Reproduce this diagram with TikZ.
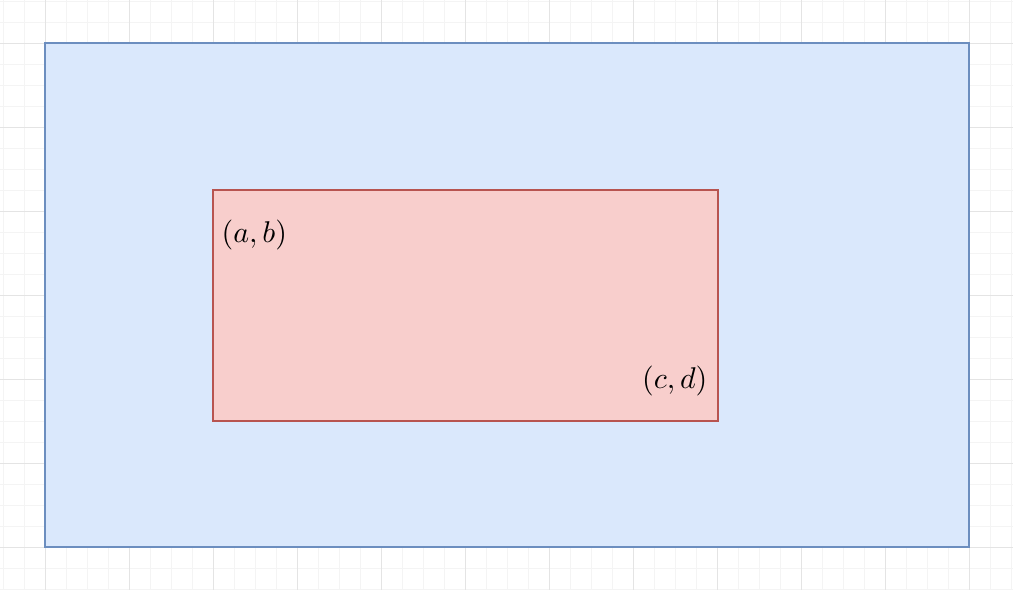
\documentclass[tikz,border=0pt]{standalone}
\usepackage{xcolor}
\usetikzlibrary{positioning}

\definecolor{outerfill}{HTML}{DAE8FC}
\definecolor{outerline}{HTML}{6C8EBF}
\definecolor{innerfill}{HTML}{F8CECC}
\definecolor{innerline}{HTML}{B85450}
\definecolor{minorgrid}{HTML}{F4F4F4}
\definecolor{majorgrid}{HTML}{E4E4E4}

\tikzset{
  outerbox/.style={fill=outerfill, draw=outerline, line width=1pt},
  innerbox/.style={fill=innerfill, draw=innerline, line width=1pt},
  corner/.style={inner sep=0pt, scale=1.5}
}

\begin{document}
\begin{tikzpicture}[x=0.5pt, y=-0.5pt]
  \useasboundingbox (0,0) rectangle (1013,590);
  \fill[white] (0,0) rectangle (1013,590);
  % background grid
  \foreach \x in {3,24,...,1013}
    \draw[minorgrid, line width=0.5pt] (\x,0) -- (\x,590);
  \foreach \y in {1,22,...,590}
    \draw[minorgrid, line width=0.5pt] (0,\y) -- (1013,\y);
  \foreach \x in {45,129,...,1013}
    \draw[majorgrid, line width=0.5pt] (\x,0) -- (\x,590);
  \foreach \y in {43,127,...,590}
    \draw[majorgrid, line width=0.5pt] (0,\y) -- (1013,\y);

  \coordinate (outer-nw) at (45,43);
  \coordinate (outer-se) at (969,547);
  \coordinate (inner-nw) at (213,190);
  \coordinate (inner-se) at (718,421);

  \draw[outerbox] (outer-nw) rectangle (outer-se);
  \draw[innerbox] (inner-nw) rectangle (inner-se);

  \node[corner, anchor=west] (ab) at (221,235) {$(a,b)$};
  \node[corner, anchor=east] (cd) at (708,381) {$(c,d)$};
\end{tikzpicture}
\end{document}
